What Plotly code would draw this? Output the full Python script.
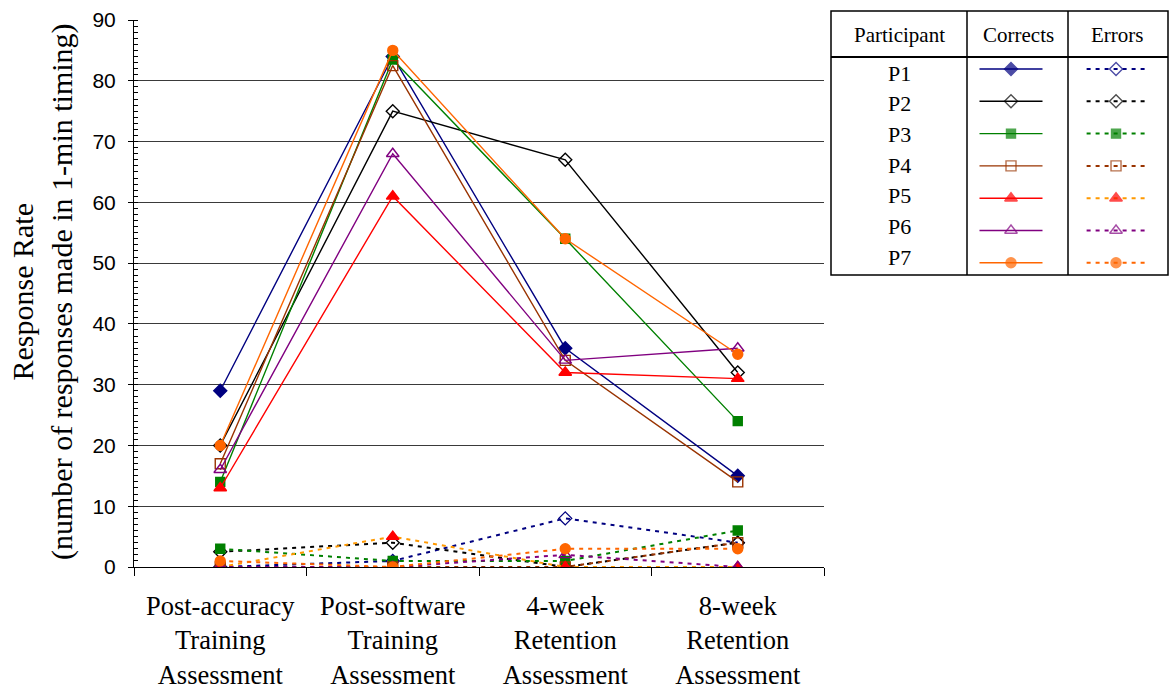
import plotly.graph_objects as go

# ---------------- data ----------------
categories = [
    "Post-accuracy<br>Training<br>Assessment",
    "Post-software<br>Training<br>Assessment",
    "4-week<br>Retention<br>Assessment",
    "8-week<br>Retention<br>Assessment",
]
participants = ["P1", "P2", "P3", "P4", "P5", "P6", "P7"]

p1_correct = [29, 84, 36, 15]
p2_correct = [20, 75, 67, 32]
p3_correct = [14, 83.5, 54, 24]
p4_correct = [17, 82.5, 34, 14]
p5_correct = [13, 61, 32, 31]
p6_correct = [16, 68, 34, 36]
p7_correct = [20, 85, 54, 35]

p1_errors = [0, 1, 8, 4]
p2_errors = [2.5, 4, 0, 4]
p3_errors = [3, 1, 1, 6]
p4_errors = [0, 0, 0, 4]
p5_errors = [0, 5, 0, 0]
p6_errors = [0, 0, 2, 0]
p7_errors = [1, 0, 3, 3]

y_ticks = [0, 10, 20, 30, 40, 50, 60, 70, 80, 90]

corrects = [p1_correct, p2_correct, p3_correct, p4_correct, p5_correct, p6_correct, p7_correct]
errors = [p1_errors, p2_errors, p3_errors, p4_errors, p5_errors, p6_errors, p7_errors]

# ---------------- styles ----------------
correct_colors = ["#000080", "#000000", "#008000", "#993300", "#FF0000", "#800080", "#FF6600"]
error_colors = ["#000080", "#000000", "#008000", "#993300", "#FF9900", "#800080", "#FF6600"]
error_marker_colors = ["#000080", "#000000", "#008000", "#993300", "#FF0000", "#800080", "#FF6600"]
correct_symbols = ["diamond", "diamond-open", "square", "square-open", "triangle-up", "triangle-up-open", "circle"]
error_symbols = ["diamond-open", "diamond-open", "square", "square-open", "triangle-up", "triangle-up-open", "circle"]
marker_sizes = [10, 10, 9, 10, 11, 11, 10]

SERIF = "Liberation Serif, Times New Roman, serif"
SANS = "Liberation Sans, Arial, sans-serif"

W, H = 1170, 693
ML, MR, MT, MB = 134, 0, 0, 126
PW = W - ML - MR
PH = H - MT - MB


def px_x(px):
    return (px - ML) / PW


def px_y(py):
    return (MT + PH - py) / PH


fig = go.Figure()

# main chart lines
for i in range(len(participants)):
    fig.add_trace(go.Scatter(
        x=categories, y=corrects[i], mode="lines+markers",
        line=dict(color=correct_colors[i], width=1.4),
        marker=dict(symbol=correct_symbols[i], size=marker_sizes[i], color=correct_colors[i],
                    line=dict(color=correct_colors[i], width=1.4)),
        showlegend=False, xaxis="x", yaxis="y",
    ))
for i in range(len(participants)):
    fig.add_trace(go.Scatter(
        x=categories, y=errors[i], mode="lines+markers",
        line=dict(color=error_colors[i], width=2, dash="4px,5px"),
        marker=dict(symbol=error_symbols[i], size=marker_sizes[i], color=error_marker_colors[i],
                    line=dict(color=error_marker_colors[i], width=1.4)),
        showlegend=False, xaxis="x", yaxis="y",
    ))

# legend table key (column 1 = Corrects, column 2 = Errors; row = participant index)
for i in range(len(participants)):
    row = i + 1
    fig.add_trace(go.Scatter(
        x=[0.7, 1, 1.3], y=[row] * 3, mode="lines+markers",
        line=dict(color=correct_colors[i], width=1.4),
        marker=dict(symbol=correct_symbols[i], size=[0, marker_sizes[i], 0], color=correct_colors[i],
                    line=dict(color=correct_colors[i], width=1.4)),
        showlegend=False, xaxis="x2", yaxis="y2", hoverinfo="skip",
    ))
    fig.add_trace(go.Scatter(
        x=[1.72, 2, 2.28], y=[row] * 3, mode="lines+markers",
        line=dict(color=error_colors[i], width=2, dash="4px,5px"),
        marker=dict(symbol=error_symbols[i], size=[0, marker_sizes[i], 0], color=error_marker_colors[i],
                    line=dict(color=error_marker_colors[i], width=1.4)),
        showlegend=False, xaxis="x2", yaxis="y2", hoverinfo="skip",
    ))

# table borders
T_L, T_R, T_T, T_B = 831, 1168, 11, 275
shapes = [
    dict(type="rect", xref="paper", yref="paper", x0=px_x(T_L), x1=px_x(T_R), y0=px_y(T_B), y1=px_y(T_T),
         line=dict(color="black", width=1.5)),
    dict(type="line", xref="paper", yref="paper", x0=px_x(967), x1=px_x(967), y0=px_y(T_B), y1=px_y(T_T),
         line=dict(color="black", width=1.5)),
    dict(type="line", xref="paper", yref="paper", x0=px_x(1068), x1=px_x(1068), y0=px_y(T_B), y1=px_y(T_T),
         line=dict(color="black", width=1.5)),
    dict(type="line", xref="paper", yref="paper", x0=px_x(T_L), x1=px_x(T_R), y0=px_y(57), y1=px_y(57),
         line=dict(color="black", width=2.2)),
]

annotations = [
    dict(text="Participant", xref="paper", yref="paper", x=px_x(899), y=px_y(35), showarrow=False,
         xanchor="center", yanchor="middle", font=dict(family=SERIF, size=21, color="black")),
    dict(text="Corrects", xref="paper", yref="paper", x=px_x(1018), y=px_y(35), showarrow=False,
         xanchor="center", yanchor="middle", font=dict(family=SERIF, size=21, color="black")),
    dict(text="Errors", xref="paper", yref="paper", x=px_x(1117), y=px_y(35), showarrow=False,
         xanchor="center", yanchor="middle", font=dict(family=SERIF, size=21, color="black")),
    dict(text="Response Rate<br>(number of responses made in 1-min timing)", xref="paper", yref="paper",
         x=px_x(42), y=px_y(292), showarrow=False, textangle=-90, xanchor="center", yanchor="middle",
         font=dict(family=SERIF, size=30, color="black")),
]
for i, p in enumerate(participants):
    annotations.append(dict(text=p, xref="paper", yref="paper", x=px_x(899), y=px_y(73 + i * 30.7),
                            showarrow=False, xanchor="center", yanchor="middle",
                            font=dict(family=SERIF, size=22, color="black")))

fig.update_layout(
    width=W, height=H,
    margin=dict(l=ML, r=MR, t=MT, b=MB, autoexpand=False),
    paper_bgcolor="white", plot_bgcolor="white",
    showlegend=False,
    xaxis=dict(
        domain=[0, px_x(824)], type="category", range=[-0.5, 3.5],
        tickson="boundaries", ticks="outside", ticklen=8, tickcolor="black", tickwidth=1,
        showgrid=False, showline=True, linecolor="black", linewidth=1,
        tickfont=dict(family=SERIF, size=26.5, color="black"), ticklabelstandoff=15,
        zeroline=False, anchor="y", automargin=False,
    ),
    yaxis=dict(
        domain=[0, px_y(20)], range=[0, 90], tickvals=y_ticks,
        ticks="outside", ticklen=5, tickcolor="black",
        showgrid=True, gridcolor="#3a3a3a", gridwidth=1,
        showline=True, linecolor="black", linewidth=1, zeroline=False,
        tickfont=dict(family=SANS, size=21, color="black"), ticklabelstandoff=8,
        minor=dict(dtick=1, ticks="inside", ticklen=4, tickcolor="black", showgrid=False),
        anchor="x", automargin=False,
    ),
    xaxis2=dict(domain=[px_x(T_L), px_x(T_R)], range=[-0.714, 2.495], visible=False, anchor="y2",
                fixedrange=True),
    yaxis2=dict(domain=[px_y(T_B), px_y(T_T)], range=[7.378, -0.796], visible=False, anchor="x2",
                fixedrange=True),
    shapes=shapes,
    annotations=annotations,
)

fig.write_html("out.html", config={"displayModeBar": False},
               post_script="document.body.style.margin='0';document.body.style.padding='0';")
